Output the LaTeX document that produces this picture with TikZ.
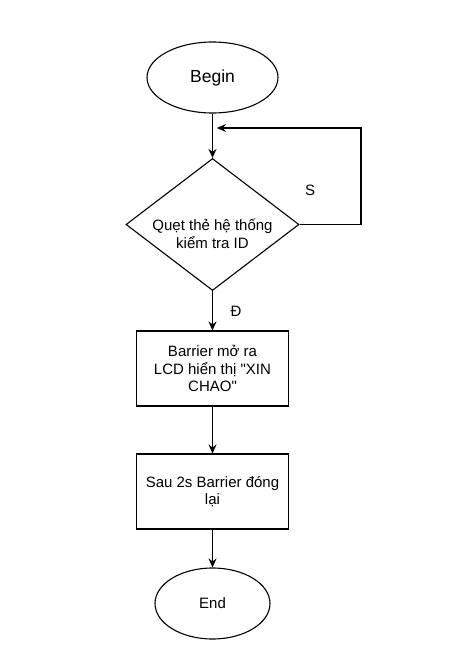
\documentclass[tikz,border=0pt]{standalone}
\usepackage{fontspec}
\setmainfont{Liberation Sans}[Ligatures=TeXOff]
\usetikzlibrary{shapes.geometric,arrows.meta}
\begin{document}
\begin{tikzpicture}[x=1pt,y=-1pt,
  line width=1.1pt,
  term/.style={draw, ellipse, inner sep=0pt},
  proc/.style={draw, rectangle, minimum width=152pt, minimum height=75pt, inner sep=0pt, align=center, font=\fontsize{15}{17.5}\selectfont},
  dec/.style={draw, diamond, minimum width=173pt, minimum height=132pt, inner sep=0pt},
  lbl/.style={font=\fontsize{15}{17.5}\selectfont, align=center, inner sep=0pt},
  arr/.style={-{Stealth[length=9pt,width=8pt,inset=3pt]}}]
\useasboundingbox (0,0) rectangle (473,671);
\node[term, minimum width=131pt, minimum height=71pt, font=\fontsize{17.5}{20}\selectfont] (begin) at (212.5,77.5) {Begin};
\node[dec] (dec) at (212.5,224.5) {};
\node[lbl] (dect) at (212.5,234) {Quẹt thẻ hệ thống\\kiểm tra ID};
\node[proc] (p1) at (212.5,368.5) {Barrier mở ra\\LCD hiển thị "XIN\\CHAO"};
\node[proc] (p2) at (212.5,491.5) {Sau 2s Barrier đóng\\lại};
\node[term, minimum width=115pt, minimum height=71pt, font=\fontsize{15}{17.5}\selectfont] (end) at (212.5,603.5) {End};
\coordinate (c1) at (361,224.5);
\coordinate (c2) at (361,128);
\coordinate (c3) at (217,128);
\node[lbl] (s) at (310,190) {S};
\node[lbl] (d) at (236,311) {Đ};
\draw[arr] (begin) -- (dec.north);
\draw[arr] (dec.east) -- (c1) -- (c2) -- (c3);
\draw[arr] (dec.south) -- (p1.north);
\draw[arr] (p1) -- (p2);
\draw[arr] (p2) -- (end);
\end{tikzpicture}
\end{document}
